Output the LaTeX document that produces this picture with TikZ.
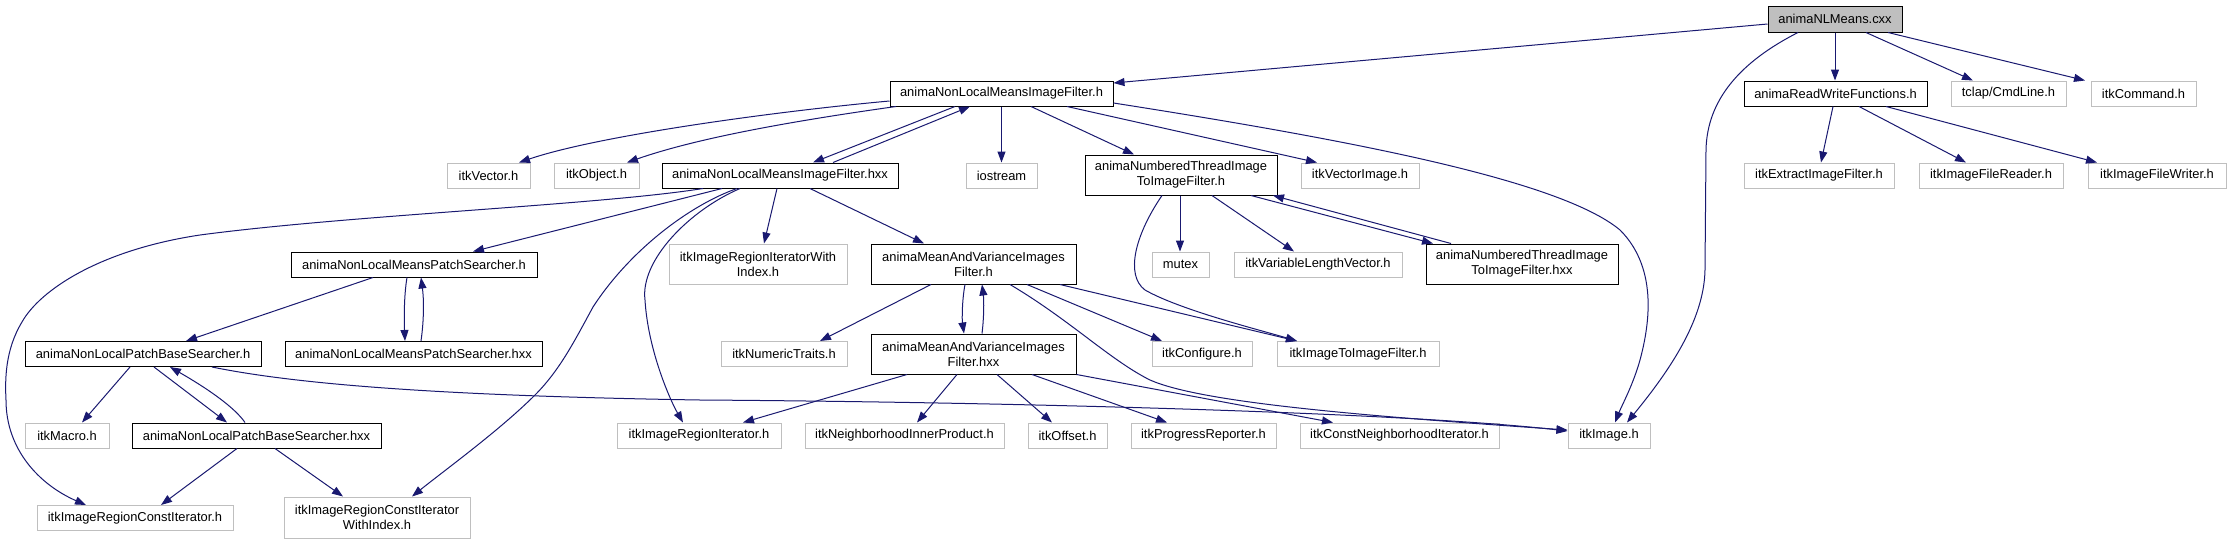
\documentclass[tikz,border=0pt]{standalone}
\usepackage{fontspec}
\setmainfont{Liberation Sans}
\usetikzlibrary{arrows.meta}
\definecolor{edgeblue}{HTML}{191970}
\definecolor{grey75}{HTML}{BFBFBF}
\begin{document}
\begin{tikzpicture}[x=1pt,y=-1pt,
  box/.style={line width=1pt, fill=white, inner sep=0pt, minimum height=25pt, align=center,
     font=\fontsize{12.9pt}{15pt}\selectfont},
  inc/.style={box, draw=black},
  ext/.style={box, draw=grey75},
  two/.style={minimum height=40pt},
  e/.style={draw=edgeblue, line width=1pt, -{Triangle[length=11pt,width=8pt]}}]
\fill[white] (0,0) rectangle (2231,544);
\useasboundingbox (0,0) rectangle (2231,544);
% row 1
\node[inc, fill=grey75, minimum width=134pt, minimum height=26pt] (root) at (1835,19) {animaNLMeans.cxx};
% row 2
\node[inc, minimum width=223pt] (nlmifh) at (1001.5,93.5) {animaNonLocalMeansImageFilter.h};
\node[inc, minimum width=183pt] (rw) at (1835.5,93.5) {animaReadWriteFunctions.h};
\node[ext, minimum width=115pt] (tclap) at (2008.5,93.5) {tclap/CmdLine.h};
\node[ext, minimum width=105pt] (itkCommand) at (2143.5,93.5) {itkCommand.h};
% row 3
\node[ext, minimum width=83pt] (itkVector) at (488.5,175.5) {itkVector.h};
\node[ext, minimum width=85pt] (itkObject) at (596.5,175.5) {itkObject.h};
\node[inc, minimum width=236pt] (nlmifhxx) at (780,175.5) {animaNonLocalMeansImageFilter.hxx};
\node[ext, minimum width=71pt] (iostream) at (1001.5,175.5) {iostream};
\node[inc, two, minimum width=192pt] (ntifh) at (1181,175) {animaNumberedThreadImage\\ToImageFilter.h};
\node[ext, minimum width=118pt] (itkVectorImage) at (1360,175.5) {itkVectorImage.h};
\node[ext, minimum width=150pt] (itkExtract) at (1819,175.5) {itkExtractImageFilter.h};
\node[ext, minimum width=144pt] (itkFileReader) at (1991,175.5) {itkImageFileReader.h};
\node[ext, minimum width=138pt] (itkFileWriter) at (2157,175.5) {itkImageFileWriter.h};
% row 4
\node[inc, minimum width=246pt] (nlmpsh) at (414,264.5) {animaNonLocalMeansPatchSearcher.h};
\node[ext, two, minimum width=178pt] (itkRIWI) at (758,264) {itkImageRegionIteratorWith\\Index.h};
\node[inc, two, minimum width=205pt] (mavh) at (973.5,264) {animaMeanAndVarianceImages\\Filter.h};
\node[ext, minimum width=57pt] (mutex) at (1180.5,264.5) {mutex};
\node[ext, minimum width=168pt] (itkVLV) at (1318,264.5) {itkVariableLengthVector.h};
\node[inc, two, minimum width=192pt] (ntifhxx) at (1522,264) {animaNumberedThreadImage\\ToImageFilter.hxx};
% row 5
\node[inc, minimum width=236pt] (nlpbsh) at (143,354) {animaNonLocalPatchBaseSearcher.h};
\node[inc, minimum width=257pt] (nlmpshxx) at (413.5,354) {animaNonLocalMeansPatchSearcher.hxx};
\node[ext, minimum width=126pt] (itkNumericTraits) at (784,354) {itkNumericTraits.h};
\node[inc, two, minimum width=205pt] (mavhxx) at (973.5,354) {animaMeanAndVarianceImages\\Filter.hxx};
\node[ext, minimum width=100pt] (itkConfigure) at (1202,354) {itkConfigure.h};
\node[ext, minimum width=162pt] (itkI2IF) at (1358,354) {itkImageToImageFilter.h};
% row 6
\node[ext, minimum width=84pt] (itkMacro) at (67,435.5) {itkMacro.h};
\node[inc, minimum width=249pt] (nlpbshxx) at (256.5,435.5) {animaNonLocalPatchBaseSearcher.hxx};
\node[ext, minimum width=164pt] (itkRI) at (699,435.5) {itkImageRegionIterator.h};
\node[ext, minimum width=199pt] (itkNIP) at (904.5,435.5) {itkNeighborhoodInnerProduct.h};
\node[ext, minimum width=79pt] (itkOffset) at (1067.5,435.5) {itkOffset.h};
\node[ext, minimum width=145pt] (itkProgress) at (1203.5,435.5) {itkProgressReporter.h};
\node[ext, minimum width=199pt] (itkCNI) at (1399.5,435.5) {itkConstNeighborhoodIterator.h};
\node[ext, minimum width=82pt] (itkImage) at (1609,435.5) {itkImage.h};
% row 7
\node[ext, minimum width=196pt] (itkRCI) at (135,518) {itkImageRegionConstIterator.h};
\node[ext, two, minimum width=186pt, minimum height=41pt] (itkRCIWI) at (377,517.5) {itkImageRegionConstIterator\\WithIndex.h};

% edges from root
\draw[e] (root.west |- 0,24) -- (nlmifh.east |- 0,83);
\draw[e] (1798,0 |- root.south) .. controls (1740,62) and (1707,100) .. (1706,150) -- (1705,270) .. controls (1704,320) and (1670,370) .. (1627,0 |- itkImage.north);
\draw[e] (1835,0 |- root.south) -- (1835,0 |- rw.north);
\draw[e] (1866,0 |- root.south) -- (1973,0 |- tclap.north);
\draw[e] (1888,0 |- root.south) -- (2085,0 |- itkCommand.north);
% nlmifh
\draw[e] (nlmifh.west |- 0,101) .. controls (780,111) and (600,135) .. (519,0 |- itkVector.north);
\draw[e] (896,0 |- nlmifh.south) .. controls (800,120) and (700,137) .. (627,0 |- itkObject.north);
\draw[e] (955,0 |- nlmifh.south) -- (813,0 |- nlmifhxx.north);
\draw[e] (833,0 |- nlmifhxx.north) -- (970,0 |- nlmifh.south);
\draw[e] (nlmifh.south) -- (iostream.north);
\draw[e] (1031,0 |- nlmifh.south) -- (1134,0 |- ntifh.north);
\draw[e] (1067,0 |- nlmifh.south) -- (1317,0 |- itkVectorImage.north);
\draw[e] (nlmifh.east |- 0,103) .. controls (1350,140) and (1560,180) .. (1620,230) .. controls (1660,270) and (1648,330) .. (1640,360) .. controls (1633,385) and (1622,405) .. (1615,0 |- itkImage.north);
% nlmifhxx
\draw[e] (777,0 |- nlmifhxx.south) -- (764,0 |- itkRIWI.north);
\draw[e] (810,0 |- nlmifhxx.south) -- (924,0 |- mavh.north);
\draw[e] (722,0 |- nlmifhxx.south) -- (473,0 |- nlmpsh.north);
\draw[e] (703,0 |- nlmifhxx.south) .. controls (600,205) and (350,215) .. (200,235) .. controls (100,250) and (40,290) .. (22,322) .. controls (5,350) and (5,380) .. (6,400) .. controls (6,450) and (40,485) .. (86,0 |- itkRCI.north);
\draw[e] (740,0 |- nlmifhxx.south) .. controls (690,210) and (640,260) .. (645,300) .. controls (648,350) and (670,400) .. (683,0 |- itkRI.north);
\draw[e] (737,0 |- nlmifhxx.south) .. controls (690,205) and (630,250) .. (593,307) .. controls (575,340) and (560,370) .. (535,395) .. controls (500,430) and (445,470) .. (412,0 |- itkRCIWI.north);
% nlmpsh
\draw[e] (373,0 |- nlmpsh.south) -- (186,0 |- nlpbsh.north);
\draw[e] (407,0 |- nlmpsh.south) .. controls (404,295) and (404,320) .. (405,0 |- nlmpshxx.north);
\draw[e] (421,0 |- nlmpshxx.north) .. controls (424,320) and (424,300) .. (421,0 |- nlmpsh.south);
% nlpbsh
\draw[e] (130,0 |- nlpbsh.south) -- (82,0 |- itkMacro.north);
\draw[e] (154,0 |- nlpbsh.south) -- (227,0 |- nlpbshxx.north);
\draw[e] (245,0 |- nlpbshxx.north) .. controls (235,408) and (210,390) .. (170,0 |- nlpbsh.south);
\draw[e] (212,0 |- nlpbsh.south) .. controls (300,385) and (450,396) .. (700,400) .. controls (1000,402) and (1400,412) .. (itkImage.west |- 0,431);
% nlpbshxx
\draw[e] (237,0 |- nlpbshxx.south) -- (161,0 |- itkRCI.north);
\draw[e] (275,0 |- nlpbshxx.south) -- (343,0 |- itkRCIWI.north);
% mavh
\draw[e] (931,0 |- mavh.south) -- (820,0 |- itkNumericTraits.north);
\draw[e] (965,0 |- mavh.south) .. controls (962,300) and (962,320) .. (964,0 |- mavhxx.north);
\draw[e] (982,0 |- mavhxx.north) .. controls (984,318) and (984,300) .. (982,0 |- mavh.south);
\draw[e] (1027,0 |- mavh.south) -- (1162,0 |- itkConfigure.north);
\draw[e] (1060,0 |- mavh.south) -- (1297,0 |- itkI2IF.north);
\draw[e] (1010,0 |- mavh.south) .. controls (1070,320) and (1110,360) .. (1150,380) .. controls (1200,402) and (1350,415) .. (itkImage.west |- 0,430);
% mavhxx
\draw[e] (907,0 |- mavhxx.south) -- (743,0 |- itkRI.north);
\draw[e] (957,0 |- mavhxx.south) -- (917,0 |- itkNIP.north);
\draw[e] (997,0 |- mavhxx.south) -- (1052,0 |- itkOffset.north);
\draw[e] (1032,0 |- mavhxx.south) -- (1167,0 |- itkProgress.north);
\draw[e] (mavhxx.south east) -- (1333,0 |- itkCNI.north);
% ntifh
\draw[e] (1180,0 |- ntifh.south) -- (1180,0 |- mutex.north);
\draw[e] (1212,0 |- ntifh.south) -- (1294,0 |- itkVLV.north);
\draw[e] (1251,0 |- ntifh.south) -- (1433,0 |- ntifhxx.north);
\draw[e] (1451,0 |- ntifhxx.north) -- (1273,0 |- ntifh.south);
\draw[e] (1162,0 |- ntifh.south) .. controls (1135,235) and (1125,275) .. (1145,290) .. controls (1180,310) and (1260,330) .. (1297,0 |- itkI2IF.north);
% rw
\draw[e] (1833,0 |- rw.south) -- (1821,0 |- itkExtract.north);
\draw[e] (1859,0 |- rw.south) -- (1966,0 |- itkFileReader.north);
\draw[e] (1886,0 |- rw.south) -- (2097,0 |- itkFileWriter.north);
\end{tikzpicture}
\end{document}
